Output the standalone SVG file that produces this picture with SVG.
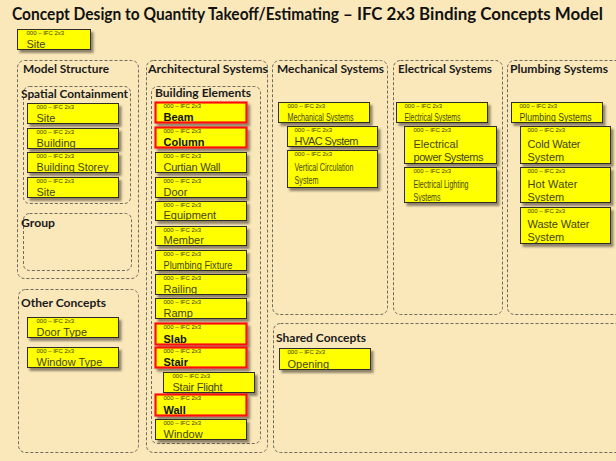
<svg xmlns="http://www.w3.org/2000/svg" width="616" height="461" viewBox="0 0 616 461">
  <defs>
    <filter id="shadow" x="-10%" y="-20%" width="130%" height="160%">
      <feDropShadow dx="2.5" dy="3" stdDeviation="1.3" flood-color="#4a4030" flood-opacity="0.6"/>
    </filter>
    <style>
      .bg { fill: #FAE8BA; }
      .title { font-family: Lato, "Open Sans", "Liberation Sans", sans-serif; font-size: 16.5px; font-weight: bold; fill: #111; }
      .zone { fill: none; stroke: #6e6a62; stroke-width: 1; stroke-dasharray: 3 2; }
      .hdr { font-family: Lato, "Open Sans", "Liberation Sans", sans-serif; font-size: 12px; font-weight: bold; fill: #1a1a1a; }
      .node rect { fill: #FFFF00; stroke: #2e2e20; stroke-width: 1; filter: url(#shadow); }
      .node.key rect { stroke: #FF1010; stroke-width: 2.2; }
      .tag { font-family: "Liberation Sans", sans-serif; font-size: 6px; fill: #3a3a00; }
      .lbl { font-family: "Liberation Sans", sans-serif; font-size: 11px; fill: #45450a; }
      .node.key .lbl { font-weight: bold; fill: #111; }
    </style>
  </defs>

  <rect class="bg" x="0" y="0" width="616" height="461"/>

  <text class="title" x="12" y="20" textLength="327" lengthAdjust="spacingAndGlyphs">Concept Design to Quantity Takeoff/Estimating</text>
  <text class="title" x="343" y="20" textLength="260" lengthAdjust="spacingAndGlyphs">– IFC 2x3 Binding Concepts Model</text>

  <!-- concept groupings (dashed frames) -->
  <g id="zones">
    <rect class="zone" x="17.5" y="60.5" width="121" height="218" rx="7"/>
    <rect class="zone" x="23.5" y="86.5" width="107" height="117" rx="6"/>
    <rect class="zone" x="23.5" y="213.5" width="108" height="57" rx="6"/>
    <rect class="zone" x="18.5" y="289.5" width="120" height="163" rx="7"/>
    <rect class="zone" x="146.5" y="60.5" width="121" height="392" rx="7"/>
    <rect class="zone" x="151.5" y="86.5" width="109" height="357" rx="6"/>
    <rect class="zone" x="272.5" y="60.5" width="115" height="254" rx="7"/>
    <rect class="zone" x="393.5" y="60.5" width="109" height="254" rx="7"/>
    <rect class="zone" x="507.5" y="60.5" width="120" height="254" rx="7"/>
    <rect class="zone" x="273.5" y="323.5" width="354" height="129" rx="7"/>

    <text class="hdr" x="23" y="73" textLength="86" lengthAdjust="spacingAndGlyphs">Model Structure</text>
    <text class="hdr" x="21" y="98" textLength="107" lengthAdjust="spacingAndGlyphs">Spatial Containment</text>
    <text class="hdr" x="21" y="227" textLength="34" lengthAdjust="spacingAndGlyphs">Group</text>
    <text class="hdr" x="21" y="307" textLength="85" lengthAdjust="spacingAndGlyphs">Other Concepts</text>
    <text class="hdr" x="148" y="73" textLength="120" lengthAdjust="spacingAndGlyphs">Architectural Systems</text>
    <text class="hdr" x="155" y="97" textLength="96" lengthAdjust="spacingAndGlyphs">Building Elements</text>
    <text class="hdr" x="277" y="73" textLength="107" lengthAdjust="spacingAndGlyphs">Mechanical Systems</text>
    <text class="hdr" x="398" y="73" textLength="94" lengthAdjust="spacingAndGlyphs">Electrical Systems</text>
    <text class="hdr" x="510" y="73" textLength="98" lengthAdjust="spacingAndGlyphs">Plumbing Systems</text>
    <text class="hdr" x="276" y="342" textLength="90" lengthAdjust="spacingAndGlyphs">Shared Concepts</text>
  </g>

  <!-- concept nodes -->
  <g id="n-site-root" class="node" transform="translate(17.5,29.5)">
    <rect width="73" height="20"/><text class="tag" x="9" y="5">000 – IFC 2x3</text><text class="lbl" x="9" y="18">Site</text>
  </g>

  <g id="n-site-1" class="node" transform="translate(27.5,103.5)">
    <rect width="91" height="20"/><text class="tag" x="9" y="5">000 – IFC 2x3</text><text class="lbl" x="9" y="18">Site</text>
  </g>
  <g id="n-building" class="node" transform="translate(27.5,128.5)">
    <rect width="91" height="20"/><text class="tag" x="9" y="5">000 – IFC 2x3</text><text class="lbl" x="9" y="18">Building</text>
  </g>
  <g id="n-building-storey" class="node" transform="translate(27.5,152.5)">
    <rect width="91" height="20"/><text class="tag" x="9" y="5">000 – IFC 2x3</text><text class="lbl" x="9" y="18" textLength="72" lengthAdjust="spacingAndGlyphs">Building Storey</text>
  </g>
  <g id="n-site-2" class="node" transform="translate(27.5,177.5)">
    <rect width="91" height="20"/><text class="tag" x="9" y="5">000 – IFC 2x3</text><text class="lbl" x="9" y="18">Site</text>
  </g>

  <g id="n-door-type" class="node" transform="translate(27.5,317.5)">
    <rect width="91" height="20"/><text class="tag" x="9" y="5">000 – IFC 2x3</text><text class="lbl" x="9" y="18">Door Type</text>
  </g>
  <g id="n-window-type" class="node" transform="translate(27.5,347.5)">
    <rect width="91" height="20"/><text class="tag" x="9" y="5">000 – IFC 2x3</text><text class="lbl" x="9" y="18">Window Type</text>
  </g>

  <g id="n-beam" class="node key" transform="translate(155.5,102.5)">
    <rect width="91" height="20"/><text class="tag" x="8" y="5">000 – IFC 2x3</text><text class="lbl" x="8" y="18">Beam</text>
  </g>
  <g id="n-column" class="node key" transform="translate(155.5,127.5)">
    <rect width="91" height="20"/><text class="tag" x="8" y="5">000 – IFC 2x3</text><text class="lbl" x="8" y="18">Column</text>
  </g>
  <g id="n-curtain-wall" class="node" transform="translate(155.5,152.5)">
    <rect width="91" height="20"/><text class="tag" x="8" y="5">000 – IFC 2x3</text><text class="lbl" x="8" y="18" textLength="57" lengthAdjust="spacing">Curtian Wall</text>
  </g>
  <g id="n-door" class="node" transform="translate(155.5,177.5)">
    <rect width="91" height="20"/><text class="tag" x="8" y="5">000 – IFC 2x3</text><text class="lbl" x="8" y="18">Door</text>
  </g>
  <g id="n-equipment" class="node" transform="translate(155.5,201.5)">
    <rect width="91" height="19"/><text class="tag" x="8" y="5">000 – IFC 2x3</text><text class="lbl" x="8" y="17.5">Equipment</text>
  </g>
  <g id="n-member" class="node" transform="translate(155.5,226.5)">
    <rect width="91" height="19"/><text class="tag" x="8" y="5">000 – IFC 2x3</text><text class="lbl" x="8" y="17.5">Member</text>
  </g>
  <g id="n-plumbing-fixture" class="node" transform="translate(155.5,250.5)">
    <rect width="91" height="20"/><text class="tag" x="8" y="5">000 – IFC 2x3</text><text class="lbl" x="8" y="18" textLength="69" lengthAdjust="spacingAndGlyphs">Plumbing  Fixture</text>
  </g>
  <g id="n-railing" class="node" transform="translate(155.5,274.5)">
    <rect width="91" height="20"/><text class="tag" x="8" y="5">000 – IFC 2x3</text><text class="lbl" x="8" y="18">Railing</text>
  </g>
  <g id="n-ramp" class="node" transform="translate(155.5,298.5)">
    <rect width="91" height="20"/><text class="tag" x="8" y="5">000 – IFC 2x3</text><text class="lbl" x="8" y="18">Ramp</text>
  </g>
  <g id="n-slab" class="node key" transform="translate(155.5,323.5)">
    <rect width="91" height="21"/><text class="tag" x="8" y="5">000 – IFC 2x3</text><text class="lbl" x="8" y="19">Slab</text>
  </g>
  <g id="n-stair" class="node key" transform="translate(155.5,347.5)">
    <rect width="91" height="20"/><text class="tag" x="8" y="5">000 – IFC 2x3</text><text class="lbl" x="8" y="18">Stair</text>
  </g>
  <g id="n-stair-flight" class="node" transform="translate(163.5,372.5)">
    <rect width="91" height="20"/><text class="tag" x="9" y="5">000 – IFC 2x3</text><text class="lbl" x="9" y="18" textLength="50" lengthAdjust="spacing">Stair Flight</text>
  </g>
  <g id="n-wall" class="node key" transform="translate(155.5,394.5)">
    <rect width="91" height="21"/><text class="tag" x="8" y="5">000 – IFC 2x3</text><text class="lbl" x="8" y="19">Wall</text>
  </g>
  <g id="n-window" class="node" transform="translate(155.5,419.5)">
    <rect width="91" height="20"/><text class="tag" x="8" y="5">000 – IFC 2x3</text><text class="lbl" x="8" y="18">Window</text>
  </g>

  <g id="n-mechanical-systems" class="node" transform="translate(278.5,102.5)">
    <rect width="91" height="20"/><text class="tag" x="9" y="5">000 – IFC 2x3</text><text class="lbl" x="9" y="18" textLength="66" lengthAdjust="spacingAndGlyphs">Mechanical Systems</text>
  </g>
  <g id="n-hvac-system" class="node" transform="translate(287.5,126.5)">
    <rect width="90" height="20"/><text class="tag" x="7" y="5">000 – IFC 2x3</text><text class="lbl" x="7" y="18" textLength="64" lengthAdjust="spacing">HVAC System</text>
  </g>
  <g id="n-vertical-circulation" class="node" transform="translate(287.5,150.5)">
    <rect width="90" height="37"/><text class="tag" x="7" y="5">000 – IFC 2x3</text>
    <text class="lbl" x="7" y="20" textLength="59" lengthAdjust="spacingAndGlyphs">Vertical Circulation</text>
    <text class="lbl" x="7" y="33" textLength="24" lengthAdjust="spacingAndGlyphs">System</text>
  </g>

  <g id="n-electrical-systems" class="node" transform="translate(396.5,102.5)">
    <rect width="91" height="20"/><text class="tag" x="8" y="5">000 – IFC 2x3</text><text class="lbl" x="8" y="18" textLength="56" lengthAdjust="spacingAndGlyphs">Electrical Systems</text>
  </g>
  <g id="n-electrical-power" class="node" transform="translate(404.5,126.5)">
    <rect width="92" height="37"/><text class="tag" x="9" y="5">000 – IFC 2x3</text>
    <text class="lbl" x="9" y="21">Electrical</text>
    <text class="lbl" x="9" y="34" textLength="70" lengthAdjust="spacing">power Systems</text>
  </g>
  <g id="n-electrical-lighting" class="node" transform="translate(404.5,167.5)">
    <rect width="92" height="35"/><text class="tag" x="9" y="5">000 – IFC 2x3</text>
    <text class="lbl" x="9" y="20" textLength="55" lengthAdjust="spacingAndGlyphs">Electrical Lighting</text>
    <text class="lbl" x="9" y="33" textLength="27" lengthAdjust="spacingAndGlyphs">Systems</text>
  </g>

  <g id="n-plumbing-systems" class="node" transform="translate(511.5,102.5)">
    <rect width="91" height="20"/><text class="tag" x="8" y="5">000 – IFC 2x3</text><text class="lbl" x="8" y="18" textLength="72" lengthAdjust="spacingAndGlyphs">Plumbing Systems</text>
  </g>
  <g id="n-cold-water" class="node" transform="translate(520.5,126.5)">
    <rect width="90" height="37"/><text class="tag" x="7" y="5">000 – IFC 2x3</text>
    <text class="lbl" x="7" y="21" textLength="53" lengthAdjust="spacing">Cold Water</text>
    <text class="lbl" x="7" y="34">System</text>
  </g>
  <g id="n-hot-water" class="node" transform="translate(520.5,167.5)">
    <rect width="90" height="35"/><text class="tag" x="7" y="5">000 – IFC 2x3</text>
    <text class="lbl" x="7" y="20" textLength="50" lengthAdjust="spacing">Hot Water</text>
    <text class="lbl" x="7" y="33">System</text>
  </g>
  <g id="n-waste-water" class="node" transform="translate(520.5,207.5)">
    <rect width="90" height="36"/><text class="tag" x="7" y="5">000 – IFC 2x3</text>
    <text class="lbl" x="7" y="20" textLength="62" lengthAdjust="spacing">Waste Water</text>
    <text class="lbl" x="7" y="33">System</text>
  </g>

  <g id="n-opening" class="node" transform="translate(279.5,348.5)">
    <rect width="91" height="21"/><text class="tag" x="8" y="5">000 – IFC 2x3</text><text class="lbl" x="8" y="19">Opening</text>
  </g>

  <!-- this model has no connectors between concepts -->
  <g id="connectors"/>
</svg>
